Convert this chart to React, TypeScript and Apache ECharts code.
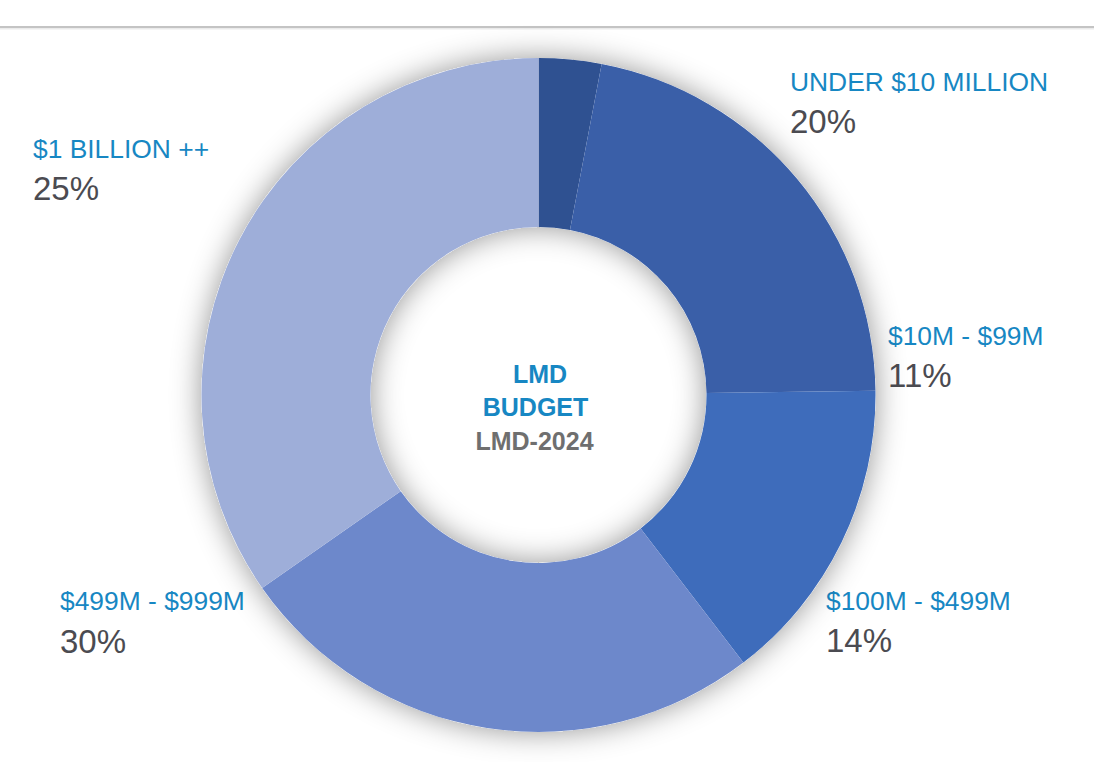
import React, { useEffect, useRef } from "react";
import * as echarts from "echarts";

// Slice sizes (percent of ring)
const sliceNames = ["Other", "UNDER $10 MILLION", "$10M - $99M", "$100M - $499M", "$499M - $999M", "$1 BILLION ++"];
const sliceValues = [3.0, 21.8, 14.8, 25.7, 34.7];
const sliceColors = ["#2f5191", "#3a5fa8", "#3e6cbb", "#6d88cb", "#9eaed9"];

// Callout texts
const labelNames = ["UNDER $10 MILLION", "$10M - $99M", "$100M - $499M", "$499M - $999M", "$1 BILLION ++"];
const labelPercents = ["20%", "11%", "14%", "30%", "25%"];
const centerLines = ["LMD", "BUDGET", "LMD-2024"];

const BLUE = "#1787c3";
const GRAY = "#4b4b51";
const FONT = "'Liberation Sans', Arial, Helvetica, sans-serif";

export default function App() {
  const ref = useRef<HTMLDivElement>(null);

  useEffect(() => {
    if (!ref.current) return;
    const chart = echarts.init(ref.current, undefined, { renderer: "svg" });

    const labelPos = [
      { x: 790, yName: 82, yPct: 121.5 },
      { x: 888, yName: 336, yPct: 375.5 },
      { x: 826, yName: 601, yPct: 640.5 },
      { x: 60, yName: 601, yPct: 641.5 },
      { x: 33, yName: 149, yPct: 188.5 },
    ];

    const graphics: any[] = [
      { type: "rect", shape: { x: 0, y: 26, width: 1094, height: 2 }, style: { fill: "#c4c4c4" }, silent: true },
      { type: "rect", shape: { x: 0, y: 28, width: 1094, height: 1.5 }, style: { fill: "#ebebeb" }, silent: true },
    ];
    labelNames.forEach((n, i) => {
      const p = labelPos[i];
      graphics.push({
        type: "text",
        x: p.x,
        y: p.yName,
        style: { text: n, fill: BLUE, font: `26.4px ${FONT}`, textAlign: "left", textVerticalAlign: "middle" },
      });
      graphics.push({
        type: "text",
        x: p.x,
        y: p.yPct,
        style: { text: labelPercents[i], fill: GRAY, font: `33px ${FONT}`, textAlign: "left", textVerticalAlign: "middle" },
      });
    });
    const centerPos = [
      { x: 540, y: 374, c: BLUE },
      { x: 535.5, y: 407, c: BLUE },
      { x: 534.5, y: 441, c: "#6f6f6f" },
    ];
    centerLines.forEach((t, i) => {
      const p = centerPos[i];
      graphics.push({
        type: "text",
        x: p.x,
        y: p.y,
        style: { text: t, fill: p.c, font: `bold 25px ${FONT}`, textAlign: "center", textVerticalAlign: "middle" },
      });
    });

    chart.setOption({
      animation: false,
      backgroundColor: "#ffffff",
      series: [
        {
          type: "pie",
          silent: true,
          center: [538.5, 395],
          radius: [168, 337],
          label: { show: false },
          labelLine: { show: false },
          itemStyle: { color: "#ffffff", shadowBlur: 30, shadowColor: "rgba(0,0,0,0.42)" },
          data: [{ value: 1, name: "shadow" }],
          z: 1,
        },
        {
          type: "pie",
          center: [538.5, 395],
          radius: [168, 337],
          startAngle: 90,
          clockwise: true,
          label: { show: false },
          labelLine: { show: false },
          itemStyle: { borderWidth: 0 },
          emphasis: { disabled: true },
          data: sliceValues.map((v, i) => ({ value: v, name: sliceNames[i], itemStyle: { color: sliceColors[i] } })),
          z: 2,
        },
      ],
      graphic: graphics,
    });

    return () => chart.dispose();
  }, []);

  return (
    <div
      ref={ref}
      style={{ position: "fixed", left: 0, top: 0, width: 1094, height: 762, background: "#fff" }}
    />
  );
}
